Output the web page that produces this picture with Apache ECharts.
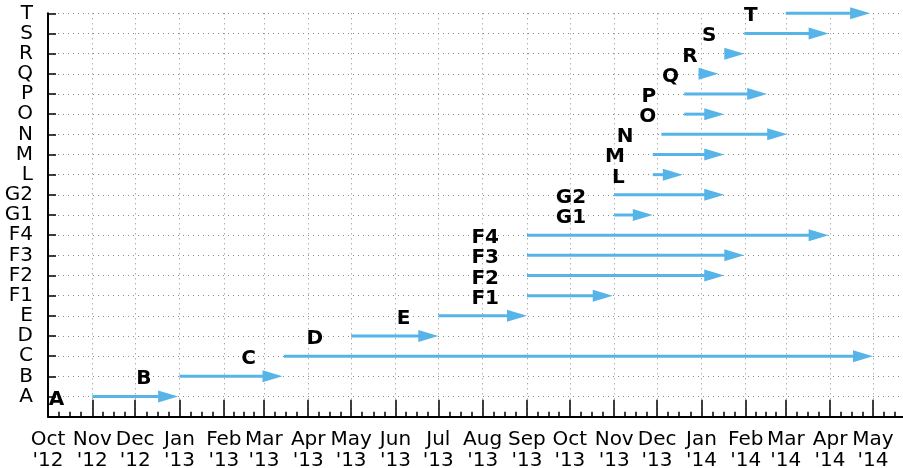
<!DOCTYPE html>
<html>
<head>
<meta charset="utf-8">
<script src="https://cdn.jsdelivr.net/npm/echarts@6/dist/echarts.min.js"></script>
<style>
  html, body { margin: 0; padding: 0; background: #fff; }
  #chart { width: 903px; height: 468px; }
</style>
</head>
<body>
<div id="chart"></div>
<script>
// Work items, bottom to top
const rowNames = ['A', 'B', 'C', 'D', 'E', 'F1', 'F2', 'F3', 'F4', 'G1', 'G2',
                  'L', 'M', 'N', 'O', 'P', 'Q', 'R', 'S', 'T'];

// Start and end date of each item (arrow tail and arrow tip)
const startDates = ['2012-11-01', '2013-01-01', '2013-03-15', '2013-05-01', '2013-07-01',
                    '2013-09-01', '2013-09-01', '2013-09-01', '2013-09-01',
                    '2013-11-01', '2013-11-01', '2013-11-28', '2013-11-28', '2013-12-04',
                    '2013-12-20', '2013-12-20', '2014-01-05', '2014-01-18', '2014-01-31',
                    '2014-03-01'];
const endDates = ['2012-12-31', '2013-03-14', '2014-05-01', '2013-07-01', '2013-09-01',
                  '2013-10-31', '2014-01-17', '2014-01-31', '2014-03-31',
                  '2013-11-28', '2014-01-17', '2013-12-19', '2014-01-17', '2014-03-02',
                  '2014-01-17', '2014-02-16', '2014-01-13', '2014-01-31', '2014-03-31',
                  '2014-04-29'];

// Month ticks along the time axis
const tickMonths = ['2012-10', '2012-11', '2012-12', '2013-01', '2013-02', '2013-03',
                    '2013-04', '2013-05', '2013-06', '2013-07', '2013-08', '2013-09',
                    '2013-10', '2013-11', '2013-12', '2014-01', '2014-02', '2014-03',
                    '2014-04', '2014-05'];
const monthNames = ['Jan', 'Feb', 'Mar', 'Apr', 'May', 'Jun',
                    'Jul', 'Aug', 'Sep', 'Oct', 'Nov', 'Dec'];

const axisStart = '2012-10-01';
const axisEnd = '2014-05-22';

// dates are kept as UTC milliseconds on a linear axis
const toMs = s => Date.parse(s.length === 7 ? s + '-01' : s);
const xMin = toMs(axisStart);
const xMax = toMs(axisEnd);
const majorTicks = tickMonths.map(toMs);

// three minor ticks splitting every month into quarters
const minorTicks = [];
majorTicks.forEach(a => {
  const d = new Date(a);
  const b = Date.UTC(d.getUTCFullYear(), d.getUTCMonth() + 1, 1);
  for (let k = 1; k < 4; k++) {
    const v = a + (b - a) * k / 4;
    if (v < xMax) minorTicks.push(v);
  }
});

const rowIndex = rowNames.map((_, i) => i);
const items = rowNames.map((n, i) => [toMs(startDates[i]), toMs(endDates[i]), i]);

const arrowColor = '#56B4E9';
const fontFamily = '"DejaVu Sans", sans-serif';
const gridLine = { show: true, lineStyle: { type: [1, 4], color: '#8a8a8a', width: 1 } };

function fmtMonth(v) {
  const d = new Date(v);
  const yy = String(d.getUTCFullYear()).slice(2);
  return monthNames[d.getUTCMonth()] + "\n'" + yy;
}

function renderArrow(params, api) {
  const p0 = api.coord([api.value(0), api.value(2)]);
  const p1 = api.coord([api.value(1), api.value(2)]);
  const headLen = 20, headHalf = 6;
  const baseX = p1[0] - headLen;
  const children = [];
  if (baseX > p0[0]) {
    children.push({
      type: 'line',
      shape: { x1: p0[0], y1: p0[1], x2: baseX + 2, y2: p1[1] },
      style: { stroke: arrowColor, lineWidth: 3 }
    });
  }
  children.push({
    type: 'polygon',
    shape: { points: [[p1[0], p1[1]], [baseX, p1[1] - headHalf], [baseX, p1[1] + headHalf]] },
    style: { fill: arrowColor }
  });
  children.push({
    type: 'text',
    style: {
      text: rowNames[params.dataIndex],
      x: p0[0] - 28,
      y: p0[1] + 2.8,
      align: 'right',
      verticalAlign: 'middle',
      font: 'bold 20px ' + fontFamily,
      fill: '#000'
    }
  });
  return { type: 'group', children };
}

const chart = echarts.init(document.getElementById('chart'), null, { renderer: 'canvas' });
chart.setOption({
  animation: false,
  backgroundColor: '#fff',
  grid: { left: 48, right: 0, top: 13.3, bottom: 51.3, outerBoundsMode: 'none', containLabel: false },
  xAxis: [
    {
      type: 'value',
      position: 'bottom',
      min: xMin,
      max: xMax,
      axisLine: { show: true, onZero: false, lineStyle: { color: '#000', width: 2 } },
      axisTick: { show: true, inside: true, length: 17, customValues: majorTicks,
                  lineStyle: { color: '#000', width: 1.5 } },
      axisLabel: {
        customValues: majorTicks,
        formatter: fmtMonth,
        fontSize: 20, lineHeight: 21, margin: 13,
        color: '#000', fontFamily: fontFamily
      },
      splitLine: gridLine
    },
    {
      type: 'value',
      position: 'bottom',
      min: xMin,
      max: xMax,
      axisLine: { show: false, onZero: false },
      axisTick: { show: true, inside: true, length: 5, customValues: minorTicks,
                  lineStyle: { color: '#000', width: 1.5 } },
      axisLabel: { show: false },
      splitLine: { show: false }
    }
  ],
  yAxis: {
    type: 'value',
    min: -1,
    max: rowNames.length - 1,
    interval: 1,
    axisLine: { show: true, onZero: false, lineStyle: { color: '#000', width: 2 } },
    axisTick: { show: true, inside: true, length: 8, customValues: rowIndex,
                lineStyle: { color: '#000', width: 1.5 } },
    axisLabel: {
      customValues: rowIndex,
      formatter: v => rowNames[v] || '',
      fontSize: 20, margin: 15, padding: [6, 0, 0, 0],
      color: '#000', fontFamily: fontFamily
    },
    splitLine: gridLine
  },
  series: [{
    type: 'custom',
    xAxisIndex: 0,
    yAxisIndex: 0,
    renderItem: renderArrow,
    encode: { x: [0, 1], y: 2 },
    data: items
  }]
});
</script>
</body>
</html>
